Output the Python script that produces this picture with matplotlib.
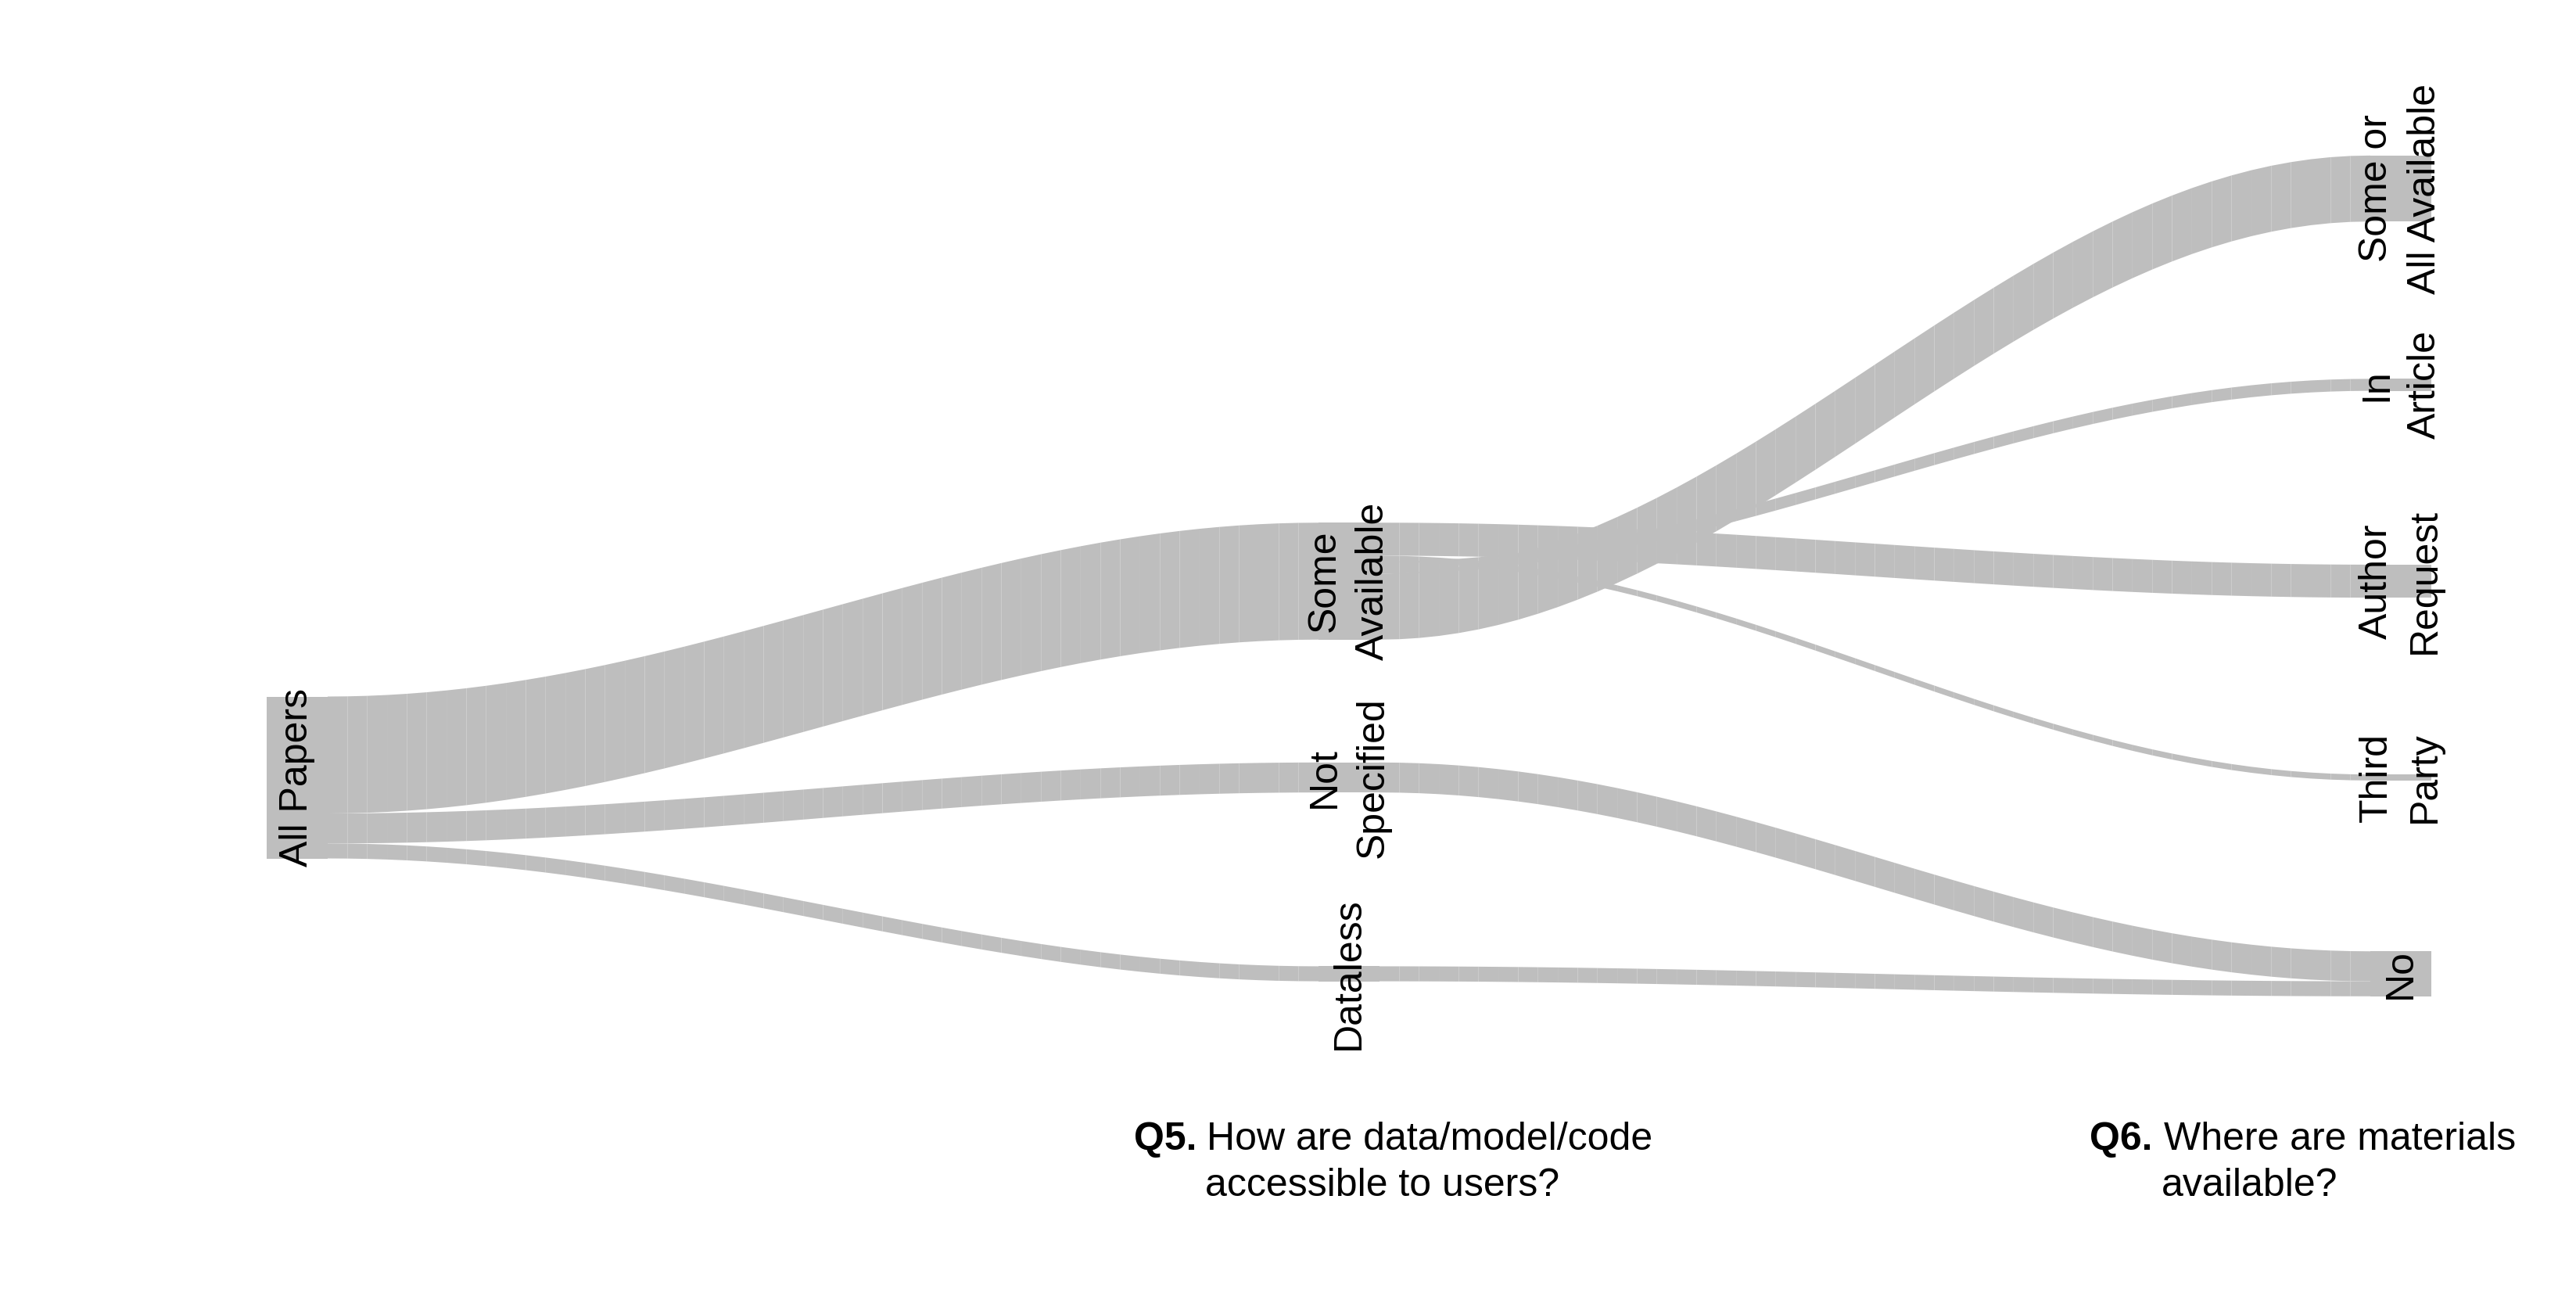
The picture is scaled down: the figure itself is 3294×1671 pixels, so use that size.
import matplotlib.pyplot as plt
import numpy as np
from matplotlib.collections import PolyCollection

plt.rcParams['font.family'] = ['Liberation Sans', 'DejaVu Sans']

# Paper counts per category
root_name = 'All Papers'
root_count = 54

q5_names = ['Some\nAvailable', 'Not\nSpecified', 'Dataless']
q5_counts = [39, 10, 5]

q6_names = ['Some or\nAll Available', 'In\nArticle', 'Author\nRequest', 'Third\nParty', 'No']
q6_counts = [22, 4, 11, 2, 15]

# Flows (source, target, papers), in stacking order at the source node
flow_src = ['All Papers', 'All Papers', 'All Papers',
            'Some\nAvailable', 'Some\nAvailable', 'Some\nAvailable', 'Some\nAvailable',
            'Not\nSpecified', 'Dataless']
flow_dst = ['Some\nAvailable', 'Not\nSpecified', 'Dataless',
            'Author\nRequest', 'Third\nParty', 'In\nArticle', 'Some or\nAll Available',
            'No', 'No']
flow_val = [39, 10, 5, 11, 2, 4, 22, 10, 5]

# Layout (pixels)
W, H = 3294, 1671
COL_X = [380, 1725, 3070]
NODE_W = 78
LEVEL_Y0 = 241
LEVEL_STEP = 251
SCALE = 207 / 54          # pixels per paper
GREY = '#bebebe'
FONT = 36

# node -> (column, level, count)
nodes = {root_name: (0, 4, root_count)}
for name, lev, cnt in zip(q5_names, [3, 4, 5], q5_counts):
    nodes[name] = (1, lev, cnt)
for name, lev, cnt in zip(q6_names, [1, 2, 3, 4, 5], q6_counts):
    nodes[name] = (2, lev, cnt)


def node_top(name):
    col, lev, cnt = nodes[name]
    return LEVEL_Y0 + (lev - 1) * LEVEL_STEP - cnt * SCALE / 2


fig = plt.figure(figsize=(W / 100, H / 100), dpi=100)
ax = fig.add_axes([0, 0, 1, 1])
ax.set_xlim(0, W)
ax.set_ylim(H, 0)
ax.axis('off')

# Nodes as grey boxes
for name, (col, lev, cnt) in nodes.items():
    ax.add_patch(plt.Rectangle((COL_X[col] - NODE_W / 2, node_top(name)), NODE_W,
                               cnt * SCALE, facecolor=GREY, edgecolor='none'))

# Flows drawn as many thin slices, like the original
out_off = {n: 0.0 for n in nodes}
in_off = {n: 0.0 for n in nodes}
t = np.linspace(0, 1, 51)
s = (1 - np.cos(np.pi * t)) / 2
for src, dst, val in zip(flow_src, flow_dst, flow_val):
    h = val * SCALE
    x0 = COL_X[nodes[src][0]] + NODE_W / 2
    x1 = COL_X[nodes[dst][0]] - NODE_W / 2
    y0 = node_top(src) + out_off[src]
    y1 = node_top(dst) + in_off[dst]
    out_off[src] += h
    in_off[dst] += h
    xs = x0 + (x1 - x0) * t
    top = y0 + (y1 - y0) * s
    bot = top + h
    polys = [[(xs[i], top[i]), (xs[i + 1], top[i + 1]),
              (xs[i + 1], bot[i + 1]), (xs[i], bot[i])] for i in range(len(t) - 1)]
    ax.add_collection(PolyCollection(polys, facecolors=GREY, edgecolors='none',
                                     linewidths=0, antialiased=True))

# Node labels
for name, (col, lev, cnt) in nodes.items():
    ax.text(COL_X[col], LEVEL_Y0 + (lev - 1) * LEVEL_STEP, name, rotation=90,
            ha='center', va='center', multialignment='center', fontsize=FONT,
            linespacing=1.45)

# Question captions
ax.text(1450, 1470, 'Q5.', fontsize=FONT, fontweight='bold', va='baseline')
ax.text(1543, 1470, 'How are data/model/code', fontsize=FONT, va='baseline')
ax.text(1541, 1529, 'accessible to users?', fontsize=FONT, va='baseline')
ax.text(2672, 1470, 'Q6.', fontsize=FONT, fontweight='bold', va='baseline')
ax.text(2767, 1470, 'Where are materials', fontsize=FONT, va='baseline')
ax.text(2764, 1529, 'available?', fontsize=FONT, va='baseline')

fig.savefig('out.png', dpi=100, facecolor='white')
plt.close(fig)
